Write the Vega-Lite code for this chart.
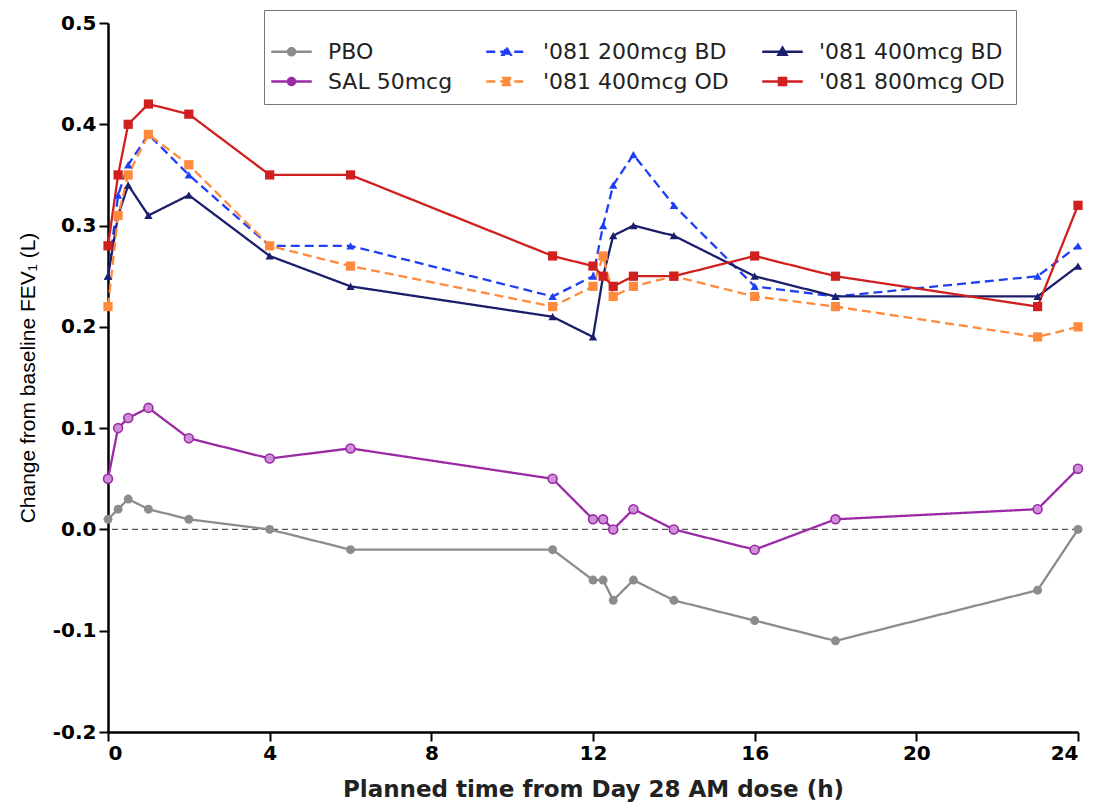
{
  "$schema": "https://vega.github.io/schema/vega-lite/v6.json",
  "width": 970,
  "height": 709,
  "autosize": {"type": "none"},
  "padding": {"left": 108, "top": 23, "right": 18, "bottom": 70},
  "background": "white",
  "config": {
    "view": {"stroke": null}
  },
  "datasets": {
    "fev": [
      {"t": 0, "s": "PBO", "v": 0.01}, {"t": 0.25, "s": "PBO", "v": 0.02}, {"t": 0.5, "s": "PBO", "v": 0.03}, {"t": 1, "s": "PBO", "v": 0.02}, {"t": 2, "s": "PBO", "v": 0.01}, {"t": 4, "s": "PBO", "v": 0.0}, {"t": 6, "s": "PBO", "v": -0.02}, {"t": 11, "s": "PBO", "v": -0.02}, {"t": 12, "s": "PBO", "v": -0.05}, {"t": 12.25, "s": "PBO", "v": -0.05}, {"t": 12.5, "s": "PBO", "v": -0.07}, {"t": 13, "s": "PBO", "v": -0.05}, {"t": 14, "s": "PBO", "v": -0.07}, {"t": 16, "s": "PBO", "v": -0.09}, {"t": 18, "s": "PBO", "v": -0.11}, {"t": 23, "s": "PBO", "v": -0.06}, {"t": 24, "s": "PBO", "v": 0.0},
      {"t": 0, "s": "SAL 50mcg", "v": 0.05}, {"t": 0.25, "s": "SAL 50mcg", "v": 0.10}, {"t": 0.5, "s": "SAL 50mcg", "v": 0.11}, {"t": 1, "s": "SAL 50mcg", "v": 0.12}, {"t": 2, "s": "SAL 50mcg", "v": 0.09}, {"t": 4, "s": "SAL 50mcg", "v": 0.07}, {"t": 6, "s": "SAL 50mcg", "v": 0.08}, {"t": 11, "s": "SAL 50mcg", "v": 0.05}, {"t": 12, "s": "SAL 50mcg", "v": 0.01}, {"t": 12.25, "s": "SAL 50mcg", "v": 0.01}, {"t": 12.5, "s": "SAL 50mcg", "v": 0.0}, {"t": 13, "s": "SAL 50mcg", "v": 0.02}, {"t": 14, "s": "SAL 50mcg", "v": 0.0}, {"t": 16, "s": "SAL 50mcg", "v": -0.02}, {"t": 18, "s": "SAL 50mcg", "v": 0.01}, {"t": 23, "s": "SAL 50mcg", "v": 0.02}, {"t": 24, "s": "SAL 50mcg", "v": 0.06},
      {"t": 0, "s": "'081 200mcg BD", "v": 0.25}, {"t": 0.25, "s": "'081 200mcg BD", "v": 0.33}, {"t": 0.5, "s": "'081 200mcg BD", "v": 0.36}, {"t": 1, "s": "'081 200mcg BD", "v": 0.39}, {"t": 2, "s": "'081 200mcg BD", "v": 0.35}, {"t": 4, "s": "'081 200mcg BD", "v": 0.28}, {"t": 6, "s": "'081 200mcg BD", "v": 0.28}, {"t": 11, "s": "'081 200mcg BD", "v": 0.23}, {"t": 12, "s": "'081 200mcg BD", "v": 0.25}, {"t": 12.25, "s": "'081 200mcg BD", "v": 0.30}, {"t": 12.5, "s": "'081 200mcg BD", "v": 0.34}, {"t": 13, "s": "'081 200mcg BD", "v": 0.37}, {"t": 14, "s": "'081 200mcg BD", "v": 0.32}, {"t": 16, "s": "'081 200mcg BD", "v": 0.24}, {"t": 18, "s": "'081 200mcg BD", "v": 0.23}, {"t": 23, "s": "'081 200mcg BD", "v": 0.25}, {"t": 24, "s": "'081 200mcg BD", "v": 0.28},
      {"t": 0, "s": "'081 400mcg BD", "v": 0.25}, {"t": 0.25, "s": "'081 400mcg BD", "v": 0.31}, {"t": 0.5, "s": "'081 400mcg BD", "v": 0.34}, {"t": 1, "s": "'081 400mcg BD", "v": 0.31}, {"t": 2, "s": "'081 400mcg BD", "v": 0.33}, {"t": 4, "s": "'081 400mcg BD", "v": 0.27}, {"t": 6, "s": "'081 400mcg BD", "v": 0.24}, {"t": 11, "s": "'081 400mcg BD", "v": 0.21}, {"t": 12, "s": "'081 400mcg BD", "v": 0.19}, {"t": 12.25, "s": "'081 400mcg BD", "v": 0.25}, {"t": 12.5, "s": "'081 400mcg BD", "v": 0.29}, {"t": 13, "s": "'081 400mcg BD", "v": 0.30}, {"t": 14, "s": "'081 400mcg BD", "v": 0.29}, {"t": 16, "s": "'081 400mcg BD", "v": 0.25}, {"t": 18, "s": "'081 400mcg BD", "v": 0.23}, {"t": 23, "s": "'081 400mcg BD", "v": 0.23}, {"t": 24, "s": "'081 400mcg BD", "v": 0.26},
      {"t": 0, "s": "'081 400mcg OD", "v": 0.22}, {"t": 0.25, "s": "'081 400mcg OD", "v": 0.31}, {"t": 0.5, "s": "'081 400mcg OD", "v": 0.35}, {"t": 1, "s": "'081 400mcg OD", "v": 0.39}, {"t": 2, "s": "'081 400mcg OD", "v": 0.36}, {"t": 4, "s": "'081 400mcg OD", "v": 0.28}, {"t": 6, "s": "'081 400mcg OD", "v": 0.26}, {"t": 11, "s": "'081 400mcg OD", "v": 0.22}, {"t": 12, "s": "'081 400mcg OD", "v": 0.24}, {"t": 12.25, "s": "'081 400mcg OD", "v": 0.27}, {"t": 12.5, "s": "'081 400mcg OD", "v": 0.23}, {"t": 13, "s": "'081 400mcg OD", "v": 0.24}, {"t": 14, "s": "'081 400mcg OD", "v": 0.25}, {"t": 16, "s": "'081 400mcg OD", "v": 0.23}, {"t": 18, "s": "'081 400mcg OD", "v": 0.22}, {"t": 23, "s": "'081 400mcg OD", "v": 0.19}, {"t": 24, "s": "'081 400mcg OD", "v": 0.20},
      {"t": 0, "s": "'081 800mcg OD", "v": 0.28}, {"t": 0.25, "s": "'081 800mcg OD", "v": 0.35}, {"t": 0.5, "s": "'081 800mcg OD", "v": 0.40}, {"t": 1, "s": "'081 800mcg OD", "v": 0.42}, {"t": 2, "s": "'081 800mcg OD", "v": 0.41}, {"t": 4, "s": "'081 800mcg OD", "v": 0.35}, {"t": 6, "s": "'081 800mcg OD", "v": 0.35}, {"t": 11, "s": "'081 800mcg OD", "v": 0.27}, {"t": 12, "s": "'081 800mcg OD", "v": 0.26}, {"t": 12.25, "s": "'081 800mcg OD", "v": 0.25}, {"t": 12.5, "s": "'081 800mcg OD", "v": 0.24}, {"t": 13, "s": "'081 800mcg OD", "v": 0.25}, {"t": 14, "s": "'081 800mcg OD", "v": 0.25}, {"t": 16, "s": "'081 800mcg OD", "v": 0.27}, {"t": 18, "s": "'081 800mcg OD", "v": 0.25}, {"t": 23, "s": "'081 800mcg OD", "v": 0.22}, {"t": 24, "s": "'081 800mcg OD", "v": 0.32}
    ]
  },
  "layer": [
    {
      "data": {"values": [{"y": 0}]},
      "mark": {"type": "rule", "color": "#555555", "strokeDash": [6, 4], "strokeWidth": 1.2},
      "encoding": {"y": {"field": "y", "type": "quantitative", "scale": {"domain": [-0.2, 0.5], "nice": false}}}
    },
    {
      "data": {"name": "fev"},
      "mark": {"type": "line", "strokeWidth": 2.3},
      "encoding": {
        "x": {"field": "t", "type": "quantitative", "scale": {"domain": [0, 24], "nice": false},
          "axis": {"values": [0, 4, 8, 12, 16, 20, 24], "title": "Planned time from Day 28 AM dose (h)", "labelFont": "DejaVu Sans", "labelFontSize": 20, "labelFontWeight": "bold", "labelColor": "black", "titleFont": "DejaVu Sans", "titleFontSize": 23, "titleFontWeight": "bold", "titleColor": "#222", "domainColor": "black", "domainWidth": 2.5, "tickColor": "black", "tickWidth": 2, "tickSize": 9, "grid": false, "labelPadding": 2, "titlePadding": 15}},
        "y": {"field": "v", "type": "quantitative", "scale": {"domain": [-0.2, 0.5], "nice": false},
          "axis": {"values": [-0.2, -0.1, 0, 0.1, 0.2, 0.3, 0.4, 0.5], "labelExpr": "replace(format(datum.value, '.1f'), '−', '-')", "title": "Change from baseline FEV₁ (L)", "labelFont": "DejaVu Sans", "titleFont": "Liberation Sans", "labelFontSize": 20, "labelFontWeight": "bold", "labelColor": "black", "titleFontSize": 21, "titleFontWeight": "normal", "titleColor": "black", "domainColor": "black", "domainWidth": 2.5, "tickColor": "black", "tickWidth": 2, "tickSize": 9, "grid": false, "labelPadding": 3, "titlePadding": 14}},
        "color": {"field": "s", "type": "nominal",
          "scale": {"domain": ["PBO", "SAL 50mcg", "'081 200mcg BD", "'081 400mcg OD", "'081 400mcg BD", "'081 800mcg OD"], "range": ["#8c8c8c", "#9a2aa6", "#1f3ff5", "#ff8a3d", "#1b1f6b", "#d01f1f"]},
          "legend": {"orient": "none", "legendX": 156, "legendY": -13, "columns": 3, "title": " ", "titleFontSize": 1, "titlePadding": 13, "labelFont": "DejaVu Sans", "labelFontSize": 22, "labelColor": "#222", "labelOffset": 20, "symbolStrokeWidth": 2.3, "symbolSize": 900, "rowPadding": 2, "columnPadding": 28, "padding": 11, "strokeColor": "#777777", "fillColor": "white", "labelLimit": 300}},
        "strokeDash": {"field": "s", "type": "nominal",
          "scale": {"domain": ["PBO", "SAL 50mcg", "'081 200mcg BD", "'081 400mcg OD", "'081 400mcg BD", "'081 800mcg OD"], "range": [[1, 0], [1, 0], [9, 5], [9, 5], [1, 0], [1, 0]]}}
      }
    },
    {
      "data": {"name": "fev"},
      "transform": [{"filter": "datum.s === 'PBO'"}],
      "mark": {"type": "point", "shape": "circle", "filled": true, "opacity": 1, "size": 80, "color": "#8c8c8c"},
      "encoding": {
        "x": {"field": "t", "type": "quantitative"},
        "y": {"field": "v", "type": "quantitative"}
      }
    },
    {
      "data": {"name": "fev"},
      "transform": [{"filter": "datum.s === 'SAL 50mcg'"}],
      "mark": {"type": "point", "shape": "circle", "filled": false, "opacity": 1, "size": 80, "stroke": "#9a2aa6", "fill": "#cf8fd8", "strokeWidth": 1.6},
      "encoding": {
        "x": {"field": "t", "type": "quantitative"},
        "y": {"field": "v", "type": "quantitative"}
      }
    },
    {
      "data": {"name": "fev"},
      "transform": [{"filter": "datum.s === \"'081 200mcg BD\""}],
      "mark": {"type": "point", "shape": "triangle-up", "filled": true, "opacity": 1, "size": 70, "color": "#1f3ff5"},
      "encoding": {
        "x": {"field": "t", "type": "quantitative"},
        "y": {"field": "v", "type": "quantitative"}
      }
    },
    {
      "data": {"name": "fev"},
      "transform": [{"filter": "datum.s === \"'081 400mcg BD\""}],
      "mark": {"type": "point", "shape": "triangle-up", "filled": true, "opacity": 1, "size": 70, "color": "#1b1f6b"},
      "encoding": {
        "x": {"field": "t", "type": "quantitative"},
        "y": {"field": "v", "type": "quantitative"}
      }
    },
    {
      "data": {"name": "fev"},
      "transform": [{"filter": "datum.s === \"'081 400mcg OD\""}],
      "mark": {"type": "point", "shape": "square", "filled": true, "opacity": 1, "size": 85, "color": "#ff8a3d"},
      "encoding": {
        "x": {"field": "t", "type": "quantitative"},
        "y": {"field": "v", "type": "quantitative"}
      }
    },
    {
      "data": {"name": "fev"},
      "transform": [{"filter": "datum.s === \"'081 800mcg OD\""}],
      "mark": {"type": "point", "shape": "square", "filled": true, "opacity": 1, "size": 85, "color": "#d01f1f"},
      "encoding": {
        "x": {"field": "t", "type": "quantitative"},
        "y": {"field": "v", "type": "quantitative"}
      }
    },
    {
      "data": {"name": "fev"},
      "transform": [{"filter": "datum.t < -100"}],
      "mark": {"type": "point", "filled": true, "opacity": 1},
      "encoding": {
        "x": {"field": "t", "type": "quantitative"},
        "y": {"field": "v", "type": "quantitative"},
        "color": {"field": "s", "type": "nominal"},
        "shape": {"field": "s", "type": "nominal",
          "scale": {"domain": ["PBO", "SAL 50mcg", "'081 200mcg BD", "'081 400mcg OD", "'081 400mcg BD", "'081 800mcg OD"],
            "range": [
              "M-1.35,0H1.35M-0.24,0A0.24,0.24,0,1,0,0.24,0A0.24,0.24,0,1,0,-0.24,0Z",
              "M-1.35,0H1.35M-0.24,0A0.24,0.24,0,1,0,0.24,0A0.24,0.24,0,1,0,-0.24,0Z",
              "M-1.35,0H1.35M0,-0.28L0.28,0.2L-0.28,0.2Z",
              "M-1.35,0H1.35M-0.24,-0.24H0.24V0.24H-0.24Z",
              "M-1.35,0H1.35M0,-0.28L0.28,0.2L-0.28,0.2Z",
              "M-1.35,0H1.35M-0.24,-0.24H0.24V0.24H-0.24Z"
            ]}}
      }
    }
  ]
}
